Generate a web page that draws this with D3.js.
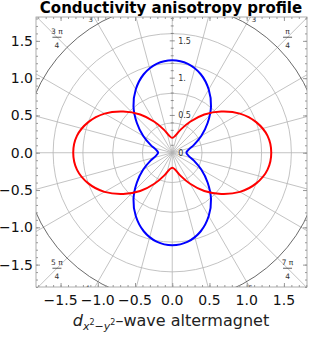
<!DOCTYPE html>
<html>
<head>
<meta charset="utf-8">
<style>
  body { margin: 0; background: #fff; }
  text { font-family: "DejaVu Sans", sans-serif; }
</style>
</head>
<body>
<script src="https://cdn.jsdelivr.net/npm/d3@7"></script>
<script>
// angle (degrees) of each sample
var angles = [0, 10, 20, 30, 40, 50, 60, 70, 80, 90, 100, 110, 120, 130, 140, 150, 160, 170,
              180, 190, 200, 210, 220, 230, 240, 250, 260, 270, 280, 290, 300, 310, 320, 330, 340, 350];
// red: sigma_xx
var redR = [1.33, 1.30, 1.20, 1.05, 0.86, 0.67, 0.48, 0.33, 0.23, 0.20, 0.23, 0.33, 0.48, 0.67, 0.86, 1.05, 1.20, 1.30,
            1.33, 1.30, 1.20, 1.05, 0.86, 0.67, 0.48, 0.33, 0.23, 0.20, 0.23, 0.33, 0.48, 0.67, 0.86, 1.05, 1.20, 1.30];
// blue: sigma_yy
var blueR = [0.19, 0.22, 0.31, 0.45, 0.62, 0.81, 0.98, 1.12, 1.21, 1.24, 1.21, 1.12, 0.98, 0.81, 0.62, 0.45, 0.31, 0.22,
             0.19, 0.22, 0.31, 0.45, 0.62, 0.81, 0.98, 1.12, 1.21, 1.24, 1.21, 1.12, 0.98, 0.81, 0.62, 0.45, 0.31, 0.22];

var frameTicks = [-1.5, -1.0, -0.5, 0.0, 0.5, 1.0, 1.5];
var gridRadii = [0.4, 0.8, 1.2, 1.6];
var outerRadius = 2.0;
var spokeAngles = [0, 15, 30, 45, 60, 75, 90, 105, 120, 135, 150, 165,
                   180, 195, 210, 225, 240, 255, 270, 285, 300, 315, 330, 345];
var radialTicks = [0.5, 1.0, 1.5];
var radialLabels = ["0.5", "1.", "1.5"];
// angular labels: [degrees, numerator, denominator] (only the part inside the frame is shown)
var angleLabels = [[45, "π", "4"], [60, "", "3"], [120, "", "3"], [135, "3 π", "4"],
                   [225, "5 π", "4"], [240, "4 π", ""], [300, "5 π", ""], [315, "7 π", "4"]];

var W = 309, H = 337;
var x = d3.scaleLinear().domain([-1.83, 1.81]).range([36, 307]);
var y = d3.scaleLinear().domain([-1.80, 1.82]).range([287, 17]);
var rad = function(r) { return x(r) - x(0); };
var toRad = Math.PI / 180;

var svg = d3.select("body").append("svg")
    .attr("width", W).attr("height", H);

svg.append("defs").append("clipPath").attr("id", "clip")
  .append("rect").attr("x", 36).attr("y", 17).attr("width", 271).attr("height", 270);

var plot = svg.append("g").attr("clip-path", "url(#clip)");

// spokes
plot.selectAll(".spoke").data(spokeAngles).enter().append("line")
    .attr("x1", x(0)).attr("y1", y(0))
    .attr("x2", function(d) { return x(2.7 * Math.cos(d * toRad)); })
    .attr("y2", function(d) { return y(2.7 * Math.sin(d * toRad)); })
    .attr("stroke", "#b4b4b4").attr("stroke-width", 0.8);

// grid circles
plot.selectAll(".gc").data(gridRadii).enter().append("circle")
    .attr("cx", x(0)).attr("cy", y(0))
    .attr("r", function(d) { return rad(d); })
    .attr("fill", "none").attr("stroke", "#b4b4b4").attr("stroke-width", 0.8);

// outer polar axis
plot.append("circle")
    .attr("cx", x(0)).attr("cy", y(0)).attr("r", rad(outerRadius))
    .attr("fill", "none").attr("stroke", "#444").attr("stroke-width", 0.8);

// angular labels
var al = plot.selectAll(".al").data(angleLabels).enter().append("g")
    .attr("transform", function(d) {
      return "translate(" + x(2.19 * Math.cos(d[0] * toRad)) + "," + y(2.19 * Math.sin(d[0] * toRad)) + ")";
    });
al.filter(function(d) { return d[1]; }).append("text").attr("y", -3.5).attr("text-anchor", "middle")
    .style("font-size", "7.5px").style("fill", "#333").text(function(d) { return d[1]; });
al.filter(function(d) { return d[1] && d[2]; }).append("line")
    .attr("x1", -4.5).attr("x2", 4.5).attr("stroke", "#333").attr("stroke-width", 0.8);
al.filter(function(d) { return d[2]; }).append("text").attr("y", 11).attr("text-anchor", "middle")
    .style("font-size", "7.5px").style("fill", "#333").text(function(d) { return d[2]; });

// radial axis ticks along the vertical
var minor = d3.range(1, 19).map(function(i) { return i / 10; });
plot.selectAll(".rt").data(minor).enter().append("line")
    .attr("x1", function(d) { return x(0) - (radialTicks.indexOf(d) >= 0 ? 2.5 : 1.5); })
    .attr("x2", function(d) { return x(0) + (radialTicks.indexOf(d) >= 0 ? 2.5 : 1.5); })
    .attr("y1", function(d) { return y(d); }).attr("y2", function(d) { return y(d); })
    .attr("stroke", "#666").attr("stroke-width", 0.7);
plot.selectAll(".rl").data(radialTicks).enter().append("text")
    .attr("x", x(0) + 6).attr("y", function(d) { return y(d) + 3; })
    .style("font-size", "8px").style("fill", "#333")
    .text(function(d, i) { return radialLabels[i]; });
plot.append("text").attr("x", x(0) + 6).attr("y", y(0) + 3)
    .style("font-size", "8px").style("fill", "#333").text("0");

// curves
var line = d3.line()
    .x(function(d) { return x(d[1] * Math.cos(d[0] * toRad)); })
    .y(function(d) { return y(d[1] * Math.sin(d[0] * toRad)); })
    .curve(d3.curveCatmullRomClosed.alpha(0.5));

plot.append("path")
    .datum(angles.map(function(a, i) { return [a, blueR[i]]; }))
    .attr("d", line).attr("fill", "none").attr("stroke", "#0000ff").attr("stroke-width", 2);
plot.append("path")
    .datum(angles.map(function(a, i) { return [a, redR[i]]; }))
    .attr("d", line).attr("fill", "none").attr("stroke", "#ff0000").attr("stroke-width", 2);

// frame
svg.append("rect").attr("x", 36).attr("y", 17).attr("width", 271).attr("height", 270)
    .attr("fill", "none").attr("stroke", "#999").attr("stroke-width", 0.8);

var minorFrame = d3.range(-18, 19).map(function(i) { return i / 10; });
function ticks(axis, scale, tr, vals, size) {
  svg.append("g").attr("transform", tr)
    .call(axis(scale).tickValues(vals).tickSize(size).tickFormat(""))
    .call(function(g) { g.select(".domain").remove(); g.selectAll("line").attr("stroke", "#999"); });
}
ticks(d3.axisBottom, x, "translate(0,287)", minorFrame, -2);
ticks(d3.axisBottom, x, "translate(0,287)", frameTicks, -4);
ticks(d3.axisTop, x, "translate(0,17)", minorFrame, -2);
ticks(d3.axisTop, x, "translate(0,17)", frameTicks, -4);
ticks(d3.axisLeft, y, "translate(36,0)", minorFrame, -2);
ticks(d3.axisLeft, y, "translate(36,0)", frameTicks, -4);
ticks(d3.axisRight, y, "translate(307,0)", minorFrame, -2);
ticks(d3.axisRight, y, "translate(307,0)", frameTicks, -4);

var fmt = d3.format(".1f");
svg.selectAll(".xl").data(frameTicks).enter().append("text")
    .attr("x", function(d) { return x(d); }).attr("y", 305)
    .attr("text-anchor", "middle").style("font-size", "14px").style("fill", "#111")
    .text(function(d) { return fmt(d); });
svg.selectAll(".yl").data(frameTicks).enter().append("text")
    .attr("x", 33).attr("y", function(d) { return y(d) + 5; })
    .attr("text-anchor", "end").style("font-size", "14px").style("fill", "#111")
    .text(function(d) { return fmt(d); });

// title
svg.append("text").attr("x", 171).attr("y", 12.5).attr("text-anchor", "middle")
    .style("font-size", "15px").style("font-weight", "bold").text("Conductivity anisotropy profile");

// x label
var xl = svg.append("text").attr("x", 171).attr("y", 326).attr("text-anchor", "middle")
    .style("font-size", "16px").style("fill", "#222");
xl.append("tspan").style("font-style", "italic").text("d");
xl.append("tspan").attr("dy", 3.5).style("font-size", "11px").style("font-style", "italic").text("x");
xl.append("tspan").attr("dy", -4.5).style("font-size", "8px").text("2");
xl.append("tspan").attr("dy", 4.5).style("font-size", "11px").text("−");
xl.append("tspan").style("font-size", "11px").style("font-style", "italic").text("y");
xl.append("tspan").attr("dy", -4.5).style("font-size", "8px").text("2");
xl.append("tspan").attr("dy", 1).text("–wave altermagnet");
</script>
</body>
</html>
